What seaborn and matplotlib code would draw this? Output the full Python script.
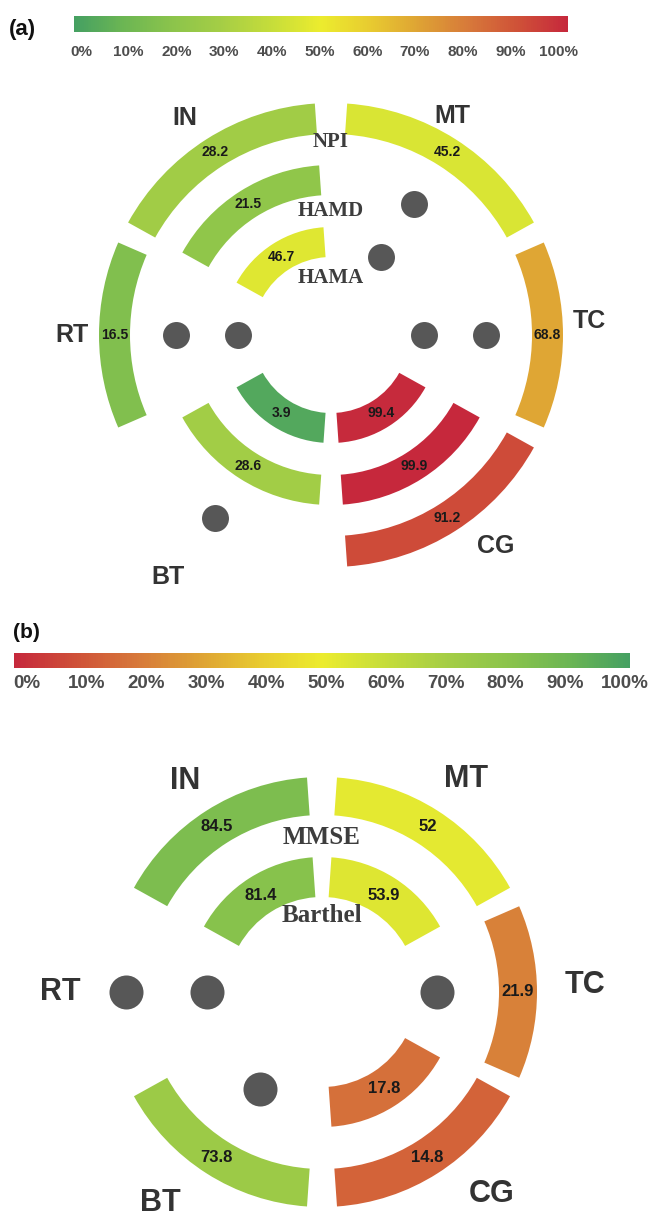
import numpy as np
import matplotlib
matplotlib.use("Agg")
import matplotlib.pyplot as plt
import seaborn as sns
from matplotlib import font_manager
from matplotlib.colors import Normalize
from matplotlib.colorbar import ColorbarBase

# ---------------- data ----------------
sectors = ["IN", "MT", "TC", "CG", "BT", "RT"]
# panel (a): outer -> inner rings
npi = [28.2, 45.2, 68.8, 91.2, np.nan, 16.5]
hamd = [21.5, np.nan, np.nan, 99.9, 28.6, np.nan]
hama = [46.7, np.nan, np.nan, 99.4, 3.9, np.nan]
rings_a = ["NPI", "HAMD", "HAMA"]
# panel (b): outer -> inner rings
mmse = [84.5, 52, 21.9, 14.8, 73.8, np.nan]
barthel = [81.4, 53.9, np.nan, 17.8, np.nan, np.nan]
rings_b = ["MMSE", "Barthel"]
cbar_ticks = [0, 10, 20, 30, 40, 50, 60, 70, 80, 90, 100]
scale_colors = ["#45a062", "#6cb653", "#8cc44b", "#a6ce45", "#c6dd3a", "#ecec2e",
                "#e8cb30", "#dea234", "#d7793a", "#cf5138", "#c6283c"]

# ---------------- style ----------------
W, H = 652, 1217
sns.set_theme(style="white")
names = {f.name for f in font_manager.fontManager.ttflist}
SANS = "Liberation Sans" if "Liberation Sans" in names else "DejaVu Sans"
NARROW = "Liberation Sans Narrow" if "Liberation Sans Narrow" in names else SANS
SERIF = "Liberation Serif" if "Liberation Serif" in names else "DejaVu Serif"
plt.rcParams["font.family"] = [SANS, "DejaVu Sans"]
narrow_ok = NARROW != SANS

cmap_a = sns.blend_palette(scale_colors, n_colors=256, as_cmap=True)
cmap_b = sns.blend_palette(scale_colors[::-1], n_colors=256, as_cmap=True)

fig = plt.figure(figsize=(W / 100, H / 100), dpi=100)
fig.patch.set_facecolor("white")


def px_axes(x0, y0, w, h, **kw):
    return fig.add_axes([x0 / W, 1 - (y0 + h) / H, w / W, h / H], **kw)


# sector layout (degrees)
sec_center = {"IN": 122.5, "MT": 57.5, "TC": 0.0, "CG": -57.5, "BT": -122.5, "RT": 180.0}
sec_span = {"IN": 57, "MT": 57, "TC": 47, "CG": 57, "BT": 57, "RT": 47}


def draw_cbar(x0, y0, w, h, cmap, lx0, lx1, ly, font, size):
    cax = px_axes(x0, y0, w, h)
    cb = ColorbarBase(cax, cmap=cmap, norm=Normalize(0, 100), orientation="horizontal")
    cb.outline.set_visible(False)
    cb.set_ticks([])
    tax = px_axes(lx0, ly, lx1 - lx0, 0.5)
    tax.set_xlim(0, 100)
    tax.set_xticks(cbar_ticks)
    tax.set_xticklabels([f"{t}%" for t in cbar_ticks])
    tax.tick_params(axis="x", length=0, pad=0, labelsize=size, labelcolor="#4d4d4d")
    tax.set_yticks([])
    for s in tax.spines.values():
        s.set_visible(False)
    tax.patch.set_alpha(0)
    for lab in tax.get_xticklabels():
        lab.set_va("center")
        lab.set_fontfamily(font)
        lab.set_fontweight("bold")


def draw_panel(cx, cy, ring_names, ring_values, radii, cmap, val_font, val_size,
               ring_lab_r, ring_lab_size, sec_lab_pos, sec_lab_size, dot_s):
    ax = px_axes(cx - 300, cy - 300, 600, 600, projection="polar")
    ax.set_ylim(0, 300)
    ax.axis("off")
    ax.patch.set_alpha(0)
    dot_t, dot_r = [], []
    for ring, vals, (r0, r1) in zip(ring_names, ring_values, radii):
        for sec, v in zip(sectors, vals):
            th = np.deg2rad(sec_center[sec])
            mid = (r0 + r1) / 2
            if np.isnan(v):
                dot_t.append(th)
                dot_r.append(mid)
                continue
            ax.bar(th, r1 - r0, width=np.deg2rad(sec_span[sec]), bottom=r0,
                   color=cmap(v / 100), edgecolor="none", align="center")
            ax.text(th, mid, f"{v:g}", ha="center", va="center", fontsize=val_size,
                    fontweight="bold", family=val_font, color="#1a1a1a")
    sns.scatterplot(x=dot_t, y=dot_r, ax=ax, s=dot_s, color="#575757",
                    linewidth=0, legend=False, zorder=3)
    ax.set_ylim(0, 300)
    ax.axis("off")
    for ring, rl in zip(ring_names, ring_lab_r):
        ax.text(np.pi / 2, rl, ring, ha="center", va="center", fontsize=ring_lab_size,
                fontweight="bold", family=SERIF, color="#3d3d3d")
    for sec in sectors:
        ang, rr = sec_lab_pos[sec]
        ax.text(np.deg2rad(ang), rr, sec, ha="center", va="center",
                fontsize=sec_lab_size, fontweight="bold", color="#333333")
    return ax


# ---------------- panel (a) ----------------
fig.text(22 / W, 1 - 30 / H, "(a)", ha="center", va="center", fontsize=16,
         fontweight="bold", color="#111111")
draw_cbar(74, 16, 494, 16, cmap_a, 81, 558, 52, NARROW, 13.5 if narrow_ok else 11)
draw_panel(331, 335, rings_a, [npi, hamd, hama],
           [(201, 232), (140, 170), (78, 108)], cmap_a,
           NARROW, 12 if narrow_ok else 10,
           [193, 124, 57], 15,
           {"IN": (124, 262), "MT": (61, 250), "TC": (3, 259), "CG": (-52, 268),
            "BT": (-124, 292), "RT": (180, 259)}, 18, 377)

# ---------------- panel (b) ----------------
fig.text(26 / W, 1 - 633 / H, "(b)", ha="center", va="center", fontsize=15,
         fontweight="bold", color="#111111")
draw_cbar(14, 653, 616, 15, cmap_b, 27, 625, 683, SANS, 13.5)
draw_panel(322, 992, rings_b, [mmse, barthel],
           [(177, 215), (95, 135)], cmap_b,
           SANS, 12,
           [155, 77], 18,
           {"IN": (123, 252), "MT": (56, 257), "TC": (1.5, 263), "CG": (-50, 264),
            "BT": (-127.5, 266), "RT": (180, 262)}, 22, 600)

fig.savefig("out.png", dpi=100, facecolor="white")
